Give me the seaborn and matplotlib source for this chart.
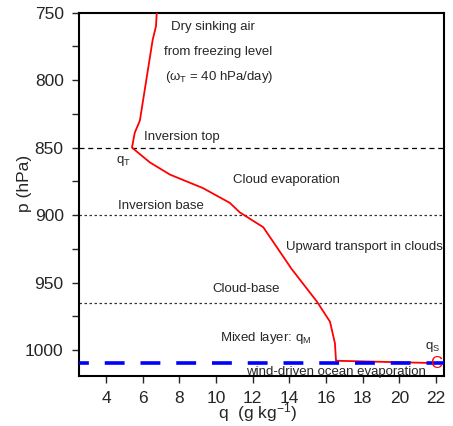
import matplotlib
matplotlib.use("Agg")
import matplotlib.pyplot as plt
import seaborn as sns
import pandas as pd
import numpy as np

# ---- data ----
q_profile = [6.77, 6.73, 6.55, 5.85, 5.57, 5.42, 6.4, 7.49, 9.29, 10.76, 11.3,
             12.58, 14.13, 15.5, 16.22, 16.49, 16.55, 21.86]
p_profile = [750, 760, 770, 830, 839, 850, 861, 870, 880, 891, 898,
             909, 940, 964, 979, 995, 1008, 1009.7]
level_inv_top = 850
level_inv_base = 900
level_cloud_base = 965
level_ocean = 1010
q_surface = 22.0
x_ticks = [4, 6, 8, 10, 12, 14, 16, 18, 20, 22]
y_ticks = [750, 800, 850, 900, 950, 1000]

sns.set_theme(style="ticks")
plt.rcParams['font.family'] = ['Liberation Sans', 'DejaVu Sans']
plt.rcParams['mathtext.fontset'] = 'custom'
plt.rcParams['mathtext.rm'] = 'Liberation Sans'
plt.rcParams['mathtext.it'] = 'Liberation Sans'

fig = plt.figure(figsize=(4.53, 4.26), dpi=100)
ax = fig.add_axes([79/453, 1-376/426, (444-79)/453, (376-12.7)/426])

df = pd.DataFrame({"q": q_profile, "p": p_profile})
sns.lineplot(data=df, x="q", y="p", sort=False, estimator=None, color="red",
             lw=1.3, ax=ax, zorder=3)

ax.axhline(level_inv_top, color="black", lw=0.9, dashes=(4, 3))
ax.axhline(level_inv_base, color="#333333", lw=0.9, dashes=(2, 2))
ax.axhline(level_cloud_base, color="#333333", lw=0.9, dashes=(2, 2))
ax.axhline(level_ocean, color="blue", lw=2.6, linestyle=(2.77, (5.5, 4.4)), zorder=4)

ax.text(q_surface, level_ocean, "C", color="red", fontsize=12, ha="center",
        va="center", zorder=5)

fs = 9.5
ax.text(9.84, 760.6, "Dry sinking air", fontsize=fs, ha="center", va="center")
ax.text(10.13, 779.5, "from freezing level", fontsize=fs, ha="center", va="center")
ax.text(10.16, 797.8, r"($\omega_T$ = 40 hPa/day)", fontsize=fs, ha="center", va="center")
ax.text(8.15, 842.5, "Inversion top", fontsize=fs, ha="center", va="center")
ax.text(4.98, 859.6, r"q$_T$", fontsize=fs, ha="center", va="center")
ax.text(13.86, 873.7, "Cloud evaporation", fontsize=fs, ha="center", va="center")
ax.text(7.0, 893, "Inversion base", fontsize=fs, ha="center", va="center")
ax.text(18.08, 923.6, "Upward transport in clouds", fontsize=fs, ha="center", va="center")
ax.text(11.64, 954.5, "Cloud-base", fontsize=fs, ha="center", va="center")
ax.text(12.73, 991, r"Mixed layer: q$_M$", fontsize=fs, ha="center", va="center")
ax.text(21.84, 997.5, r"q$_S$", fontsize=fs, ha="center", va="center")
ax.text(16.55, 1016.5, "wind-driven ocean evaporation", fontsize=fs, ha="center", va="center")

ax.set_xlim(2.53, 22.44)
ax.set_ylim(1019.3, 750)
ax.set_xticks(x_ticks)
ax.set_yticks(y_ticks)
ax.set_yticks([775, 825, 875, 925, 975], minor=True)
ax.tick_params(axis="both", which="major", labelsize=12.5, length=5, width=1, pad=6, direction="out")
ax.tick_params(axis="y", which="minor", length=5, width=1, direction="out")
for s in ax.spines.values():
    s.set_visible(True)
    s.set_linewidth(1.5)
    s.set_color("black")

ax.set_xlabel(r"q  (g kg$^{-1}$)", fontsize=12.5)
ax.set_ylabel("p (hPa)", fontsize=12.5)
ax.xaxis.set_label_coords(0.49, -0.07)
ax.yaxis.set_label_coords(-0.13, 0.53)

fig.savefig("out.png", dpi=100)
